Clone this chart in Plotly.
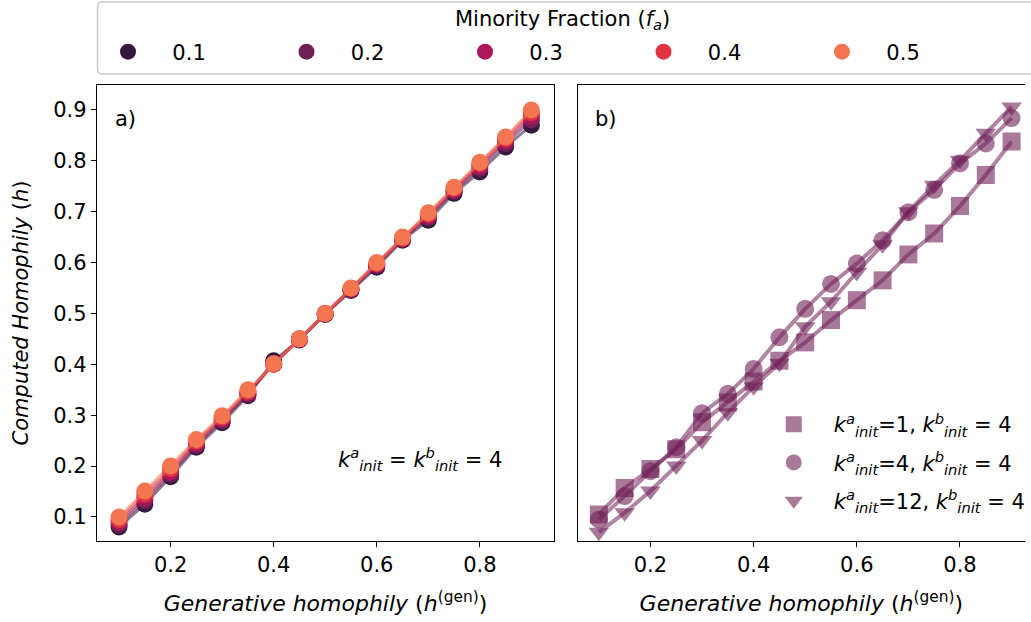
import plotly.graph_objects as go

# ---------------- data ----------------
h_gen = [0.10, 0.15, 0.20, 0.25, 0.30, 0.35, 0.40, 0.45, 0.50,
         0.55, 0.60, 0.65, 0.70, 0.75, 0.80, 0.85, 0.90]

fa_labels = ["0.1", "0.2", "0.3", "0.4", "0.5"]
fa_colors = ["#35193e", "#701f57", "#ad1759", "#e13342", "#f37651"]

h_fa01 = [0.080, 0.125, 0.179, 0.237, 0.285, 0.338, 0.407, 0.448, 0.498,
          0.545, 0.591, 0.644, 0.683, 0.736, 0.778, 0.827, 0.870]
h_fa02 = [0.085, 0.132, 0.184, 0.241, 0.289, 0.341, 0.402, 0.449, 0.499,
          0.547, 0.594, 0.646, 0.688, 0.740, 0.785, 0.834, 0.880]
h_fa03 = [0.090, 0.138, 0.189, 0.245, 0.293, 0.344, 0.400, 0.449, 0.500,
          0.548, 0.596, 0.647, 0.692, 0.743, 0.790, 0.840, 0.888]
h_fa04 = [0.095, 0.145, 0.195, 0.249, 0.296, 0.347, 0.400, 0.450, 0.500,
          0.549, 0.598, 0.648, 0.695, 0.746, 0.794, 0.844, 0.895]
h_fa05 = [0.100, 0.151, 0.200, 0.252, 0.299, 0.350, 0.401, 0.450, 0.500,
          0.550, 0.600, 0.650, 0.698, 0.748, 0.797, 0.847, 0.900]
h_by_fa = [h_fa01, h_fa02, h_fa03, h_fa04, h_fa05]

# panel b: f_a = 0.2, varying k_init^a
h_k1 = [0.105, 0.157, 0.194, 0.233, 0.286, 0.325, 0.366, 0.407, 0.443,
        0.487, 0.526, 0.565, 0.616, 0.657, 0.711, 0.772, 0.838]
h_k4 = [0.095, 0.141, 0.190, 0.237, 0.304, 0.342, 0.391, 0.453, 0.509,
        0.558, 0.598, 0.644, 0.699, 0.743, 0.795, 0.834, 0.884]
h_k12 = [0.070, 0.108, 0.151, 0.200, 0.250, 0.305, 0.356, 0.402, 0.474,
         0.523, 0.581, 0.635, 0.700, 0.752, 0.801, 0.854, 0.906]
k_series = [h_k1, h_k4, h_k12]
k_symbols = ["square", "circle", "triangle-down"]
k_labels = [
    "<i>k</i><sup><i>a</i></sup><sub><i>init</i></sub>=1, <i>k</i><sup><i>b</i></sup><sub><i>init</i></sub> = 4",
    "<i>k</i><sup><i>a</i></sup><sub><i>init</i></sub>=4, <i>k</i><sup><i>b</i></sup><sub><i>init</i></sub> = 4",
    "<i>k</i><sup><i>a</i></sup><sub><i>init</i></sub>=12, <i>k</i><sup><i>b</i></sup><sub><i>init</i></sub> = 4",
]
b_color = "#701f57"
b_rgba = "rgba(112,31,87,0.55)"

FONT = "DejaVu Sans"
FS = 21

fig = go.Figure()

# panel a
for lab, col, ys in zip(fa_labels, fa_colors, h_by_fa):
    fig.add_trace(go.Scatter(
        x=h_gen, y=ys, mode="lines", xaxis="x", yaxis="y",
        line=dict(color=col, width=3), opacity=0.55,
        showlegend=False, hoverinfo="skip"))
    fig.add_trace(go.Scatter(
        x=h_gen, y=ys, mode="markers", xaxis="x", yaxis="y",
        marker=dict(color=col, size=17, line=dict(width=0)),
        name="\u00a0\u00a0" + lab, legend="legend"))

# panel b
for i, (ys, sym, lab) in enumerate(zip(k_series, k_symbols, k_labels)):
    fig.add_trace(go.Scatter(
        x=h_gen, y=ys, mode="lines", xaxis="x2", yaxis="y2",
        line=dict(color=b_rgba, width=4), showlegend=False, hoverinfo="skip"))
    fig.add_trace(go.Scatter(
        x=h_gen, y=ys, mode="markers", xaxis="x2", yaxis="y2",
        marker=dict(color=b_color, symbol=sym, size=18, opacity=0.6,
                    line=dict(width=0)),
        name=lab, legend="legend2", legendgroup="g%d" % i))

axis_common = dict(
    showgrid=False, zeroline=False, showline=True, linecolor="black",
    linewidth=1.3, ticks="outside", ticklen=5, tickwidth=1.2, tickcolor="black",
    tickfont=dict(family=FONT, size=FS, color="black"),
)

xtitle = "<i>Generative homophily</i> (<i>h</i><sup>(gen)</sup>)"
ytitle = "<i>Computed Homophily</i> (<i>h</i>)"

# rounded legend frame (paper coords; plot area = x:97..1031 px, y:85..541 px)
def px_x(p):
    return (p - 97) / 934.0

def px_y(p):
    return 1 - (p - 85) / 456.0

x0, x1, y0, y1, r = 97.5, 1045, 2, 74, 5
frame_path = (
    f"M {px_x(x0 + r)},{px_y(y0)} L {px_x(x1 - r)},{px_y(y0)} "
    f"Q {px_x(x1)},{px_y(y0)} {px_x(x1)},{px_y(y0 + r)} "
    f"L {px_x(x1)},{px_y(y1 - r)} Q {px_x(x1)},{px_y(y1)} {px_x(x1 - r)},{px_y(y1)} "
    f"L {px_x(x0 + r)},{px_y(y1)} Q {px_x(x0)},{px_y(y1)} {px_x(x0)},{px_y(y1 - r)} "
    f"L {px_x(x0)},{px_y(y0 + r)} Q {px_x(x0)},{px_y(y0)} {px_x(x0 + r)},{px_y(y0)} Z"
)

fig.update_layout(
    width=1031, height=622,
    margin=dict(l=97, r=0, t=85, b=81),
    paper_bgcolor="white", plot_bgcolor="white",
    font=dict(family=FONT, size=FS, color="black"),
    xaxis=dict(domain=[0, 0.4925], range=[0.0572, 0.944], mirror=True,
               tickvals=[0.2, 0.4, 0.6, 0.8], ticktext=["0.2", "0.4", "0.6", "0.8"],
               title=dict(text=xtitle, font=dict(family=FONT, size=22), standoff=19),
               **axis_common),
    yaxis=dict(domain=[0, 1], range=[0.0527, 0.949], mirror=True,
               tickvals=[0.1, 0.2, 0.3, 0.4, 0.5, 0.6, 0.7, 0.8, 0.9],
               ticktext=["0.1", "0.2", "0.3", "0.4", "0.5", "0.6", "0.7", "0.8", "0.9"],
               title=dict(text=ytitle, font=dict(family=FONT, size=21), standoff=18),
               **axis_common),
    xaxis2=dict(domain=[0.518, 1], range=[0.059, 0.926], mirror=True, anchor="y2",
                tickvals=[0.2, 0.4, 0.6, 0.8], ticktext=["0.2", "0.4", "0.6", "0.8"],
                title=dict(text=xtitle, font=dict(family=FONT, size=22), standoff=19),
                **axis_common),
    yaxis2=dict(domain=[0, 1], range=[0.0527, 0.949], anchor="x2",
                showgrid=False, zeroline=False, showline=True, linecolor="black",
                linewidth=1.3, ticks="", showticklabels=False),
    legend=dict(
        orientation="h", x=0, xanchor="left", y=px_y(52), yanchor="middle",
        bgcolor="rgba(0,0,0,0)", borderwidth=0,
        entrywidth=111.5, entrywidthmode="pixels", itemwidth=52,
        font=dict(family=FONT, size=FS),
    ),
    legend2=dict(
        x=px_x(758), xanchor="left", y=px_y(404), yanchor="top",
        bgcolor="rgba(0,0,0,0)", borderwidth=0,
        itemwidth=70, tracegroupgap=8,
        font=dict(family=FONT, size=FS),
    ),
    shapes=[dict(type="path", xref="paper", yref="paper", path=frame_path,
                 line=dict(color="#cccccc", width=1.5), fillcolor="rgba(255,255,255,0.8)",
                 layer="below")],
    annotations=[
        dict(text="Minority Fraction (<i>f<sub>a</sub></i>)", xref="paper", yref="paper",
             x=px_x(566), y=px_y(20), xanchor="center", yanchor="middle",
             showarrow=False, font=dict(family=FONT, size=FS)),
        dict(text="a)", xref="x domain", yref="y domain", x=0.035, y=0.925,
             xanchor="left", yanchor="middle", showarrow=False,
             font=dict(family=FONT, size=FS)),
        dict(text="b)", xref="x2 domain", yref="y2 domain", x=0.035, y=0.925,
             xanchor="left", yanchor="middle", showarrow=False,
             font=dict(family=FONT, size=FS)),
        dict(text="<i>k</i><sup><i>a</i></sup><sub><i>init</i></sub> = <i>k</i><sup><i>b</i></sup><sub><i>init</i></sub> = 4",
             xref="x domain", yref="y domain", x=0.524, y=0.18,
             xanchor="left", yanchor="middle", showarrow=False,
             font=dict(family=FONT, size=FS)),
    ],
)

fig.write_html("out.html")
